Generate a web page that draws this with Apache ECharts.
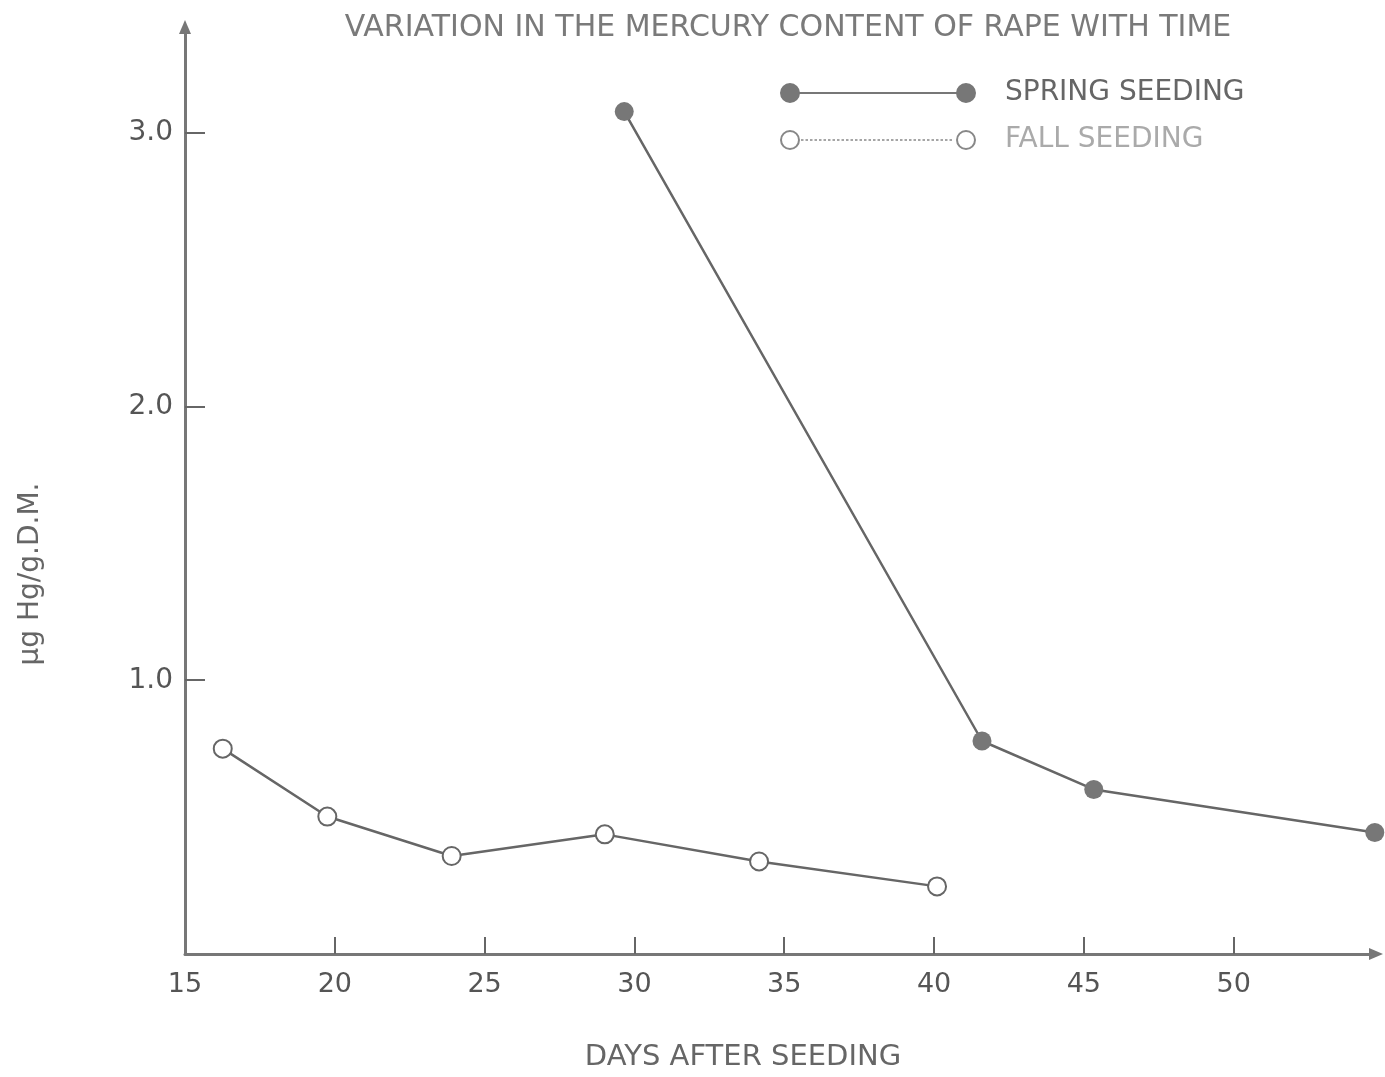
<!DOCTYPE html>
<html style="height: 100%">
<head>
<meta charset="utf-8" />
<title>Mercury content of rape</title>
<script type="text/javascript" src="https://cdn.jsdelivr.net/npm/echarts@6/dist/echarts.min.js"></script>
</head>
<body style="height: 100%; margin: 0; background: #fff;">
<div id="container" style="width: 1385px; height: 1077px;"></div>
<script type="text/javascript">
// values
var xLabelDays = [15, 20, 25, 30, 35, 40, 45, 50];
var xTickDays = [20, 25, 30, 35, 40, 45, 50];
var yTickValues = [1, 2, 3];

var springDays = [29.66, 41.60, 45.33, 54.71];
var springHg = [3.077, 0.778, 0.601, 0.444];

var fallDays = [16.26, 19.75, 23.90, 29.01, 34.16, 40.10];
var fallHg = [0.750, 0.502, 0.358, 0.437, 0.338, 0.247];

// legend keys: marker - line - marker
var springIcon = 'path://M0,10 A10,10 0 1,1 20,10 A10,10 0 1,1 0,10 Z' +
    ' M19,9 L177,9 L177,11 L19,11 Z' +
    ' M176,10 A10,10 0 1,1 196,10 A10,10 0 1,1 176,10 Z';
var fallIcon = 'path://M0,10 A10,10 0 1,1 20,10 A10,10 0 1,1 0,10 Z M2,10 A8,8 0 1,0 18,10 A8,8 0 1,0 2,10 Z' +
    ' M176,10 A10,10 0 1,1 196,10 A10,10 0 1,1 176,10 Z M178,10 A8,8 0 1,0 194,10 A8,8 0 1,0 178,10 Z';
for (var d = 21; d < 174; d += 4.5) {
    fallIcon += ' M' + d + ',9.3 L' + (d + 2.5) + ',9.3 L' + (d + 2.5) + ',10.7 L' + d + ',10.7 Z';
}

function pairs(xs, ys) {
    var out = [];
    for (var i = 0; i < xs.length; i++) out.push([xs[i], ys[i]]);
    return out;
}

var myChart = echarts.init(document.getElementById('container'));
var font = 'DejaVu Sans';
var option = {
    animation: false,
    title: {
        text: 'VARIATION IN THE MERCURY CONTENT OF RAPE WITH TIME',
        left: 783,
        top: 8,
        textAlign: 'center',
        textStyle: { fontFamily: font, fontSize: 30, fontWeight: 'normal', color: '#7a7a7a' }
    },
    legend: {
        orient: 'vertical',
        left: 775,
        top: 72,
        itemWidth: 196,
        itemHeight: 20,
        itemGap: 15,
        selectedMode: false,
        itemStyle: { borderWidth: 0 },
        textStyle: { fontFamily: font, fontSize: 28, color: '#666', lineHeight: 32, padding: [0, 0, 0, 24] },
        data: [
            { name: 'SPRING SEEDING', icon: springIcon, itemStyle: { color: '#777' } },
            { name: 'FALL SEEDING', icon: fallIcon, itemStyle: { color: '#888' }, textStyle: { color: '#aaa' } }
        ]
    },
    grid: { left: 185, right: 9, top: 27, bottom: 121 },
    xAxis: {
        type: 'value',
        min: 15,
        max: 54.75,
        name: 'DAYS AFTER SEEDING',
        nameLocation: 'middle',
        nameGap: 89,
        nameTextStyle: { fontFamily: font, fontSize: 29, color: '#666', padding: [0, 75, 0, 0] },
        axisLine: {
            symbol: ['none', 'triangle'],
            symbolSize: [12, 14],
            lineStyle: { color: '#777', width: 3 }
        },
        axisTick: { inside: true, length: 17, customValues: xTickDays, lineStyle: { color: '#666', width: 2 } },
        axisLabel: { customValues: xLabelDays, fontFamily: font, fontSize: 27, color: '#555', margin: 17 },
        splitLine: { show: false }
    },
    yAxis: {
        type: 'value',
        min: 0,
        max: 3.386,
        name: 'μg Hg/g.D.M.',
        nameLocation: 'middle',
        nameGap: 140,
        nameRotate: 90,
        nameTextStyle: { fontFamily: font, fontSize: 28, color: '#666', padding: [0, 167, 0, 0] },
        axisLine: {
            show: true,
            symbol: ['none', 'triangle'],
            symbolSize: [12, 14],
            lineStyle: { color: '#777', width: 3 }
        },
        axisTick: { show: true, inside: true, length: 20, customValues: yTickValues, lineStyle: { color: '#666', width: 2 } },
        axisLabel: {
            customValues: yTickValues,
            fontFamily: font, fontSize: 28, color: '#555', margin: 12,
            formatter: function (v) { return v.toFixed(1); }
        },
        splitLine: { show: false }
    },
    series: [
        {
            name: 'SPRING SEEDING',
            type: 'line',
            data: pairs(springDays, springHg),
            symbol: 'circle',
            symbolSize: 19,
            itemStyle: { color: '#777' },
            lineStyle: { color: '#666', width: 2.5 }
        },
        {
            name: 'FALL SEEDING',
            type: 'line',
            data: pairs(fallDays, fallHg),
            symbol: 'emptyCircle',
            symbolSize: 18,
            itemStyle: { color: '#666', borderWidth: 2 },
            lineStyle: { color: '#666', width: 2.5 }
        }
    ]
};
myChart.setOption(option);
</script>
</body>
</html>
